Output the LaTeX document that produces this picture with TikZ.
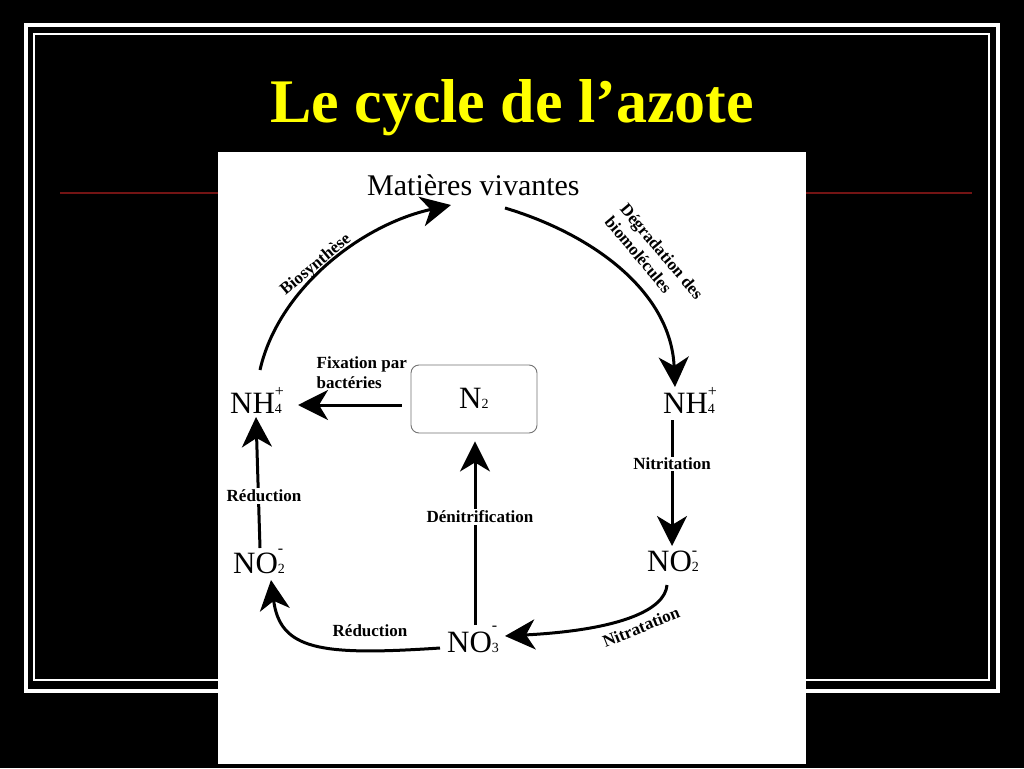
\documentclass[tikz,border=0pt]{standalone}
\usepackage{fontspec}
\setmainfont{Liberation Serif}
\usetikzlibrary{arrows.meta}
\newcommand{\ionic}[4]{#1\rlap{\fontsize{14}{14}\selectfont #2}\raisebox{#4}{\fontsize{16}{16}\selectfont #3}}
\definecolor{rule}{RGB}{115,20,20}
\definecolor{ttl}{RGB}{255,255,0}
\begin{document}
\begin{tikzpicture}[x=1pt,y=-1pt,
  lab/.style={font=\fontsize{17}{20}\selectfont\bfseries, inner sep=1.5pt},
  cut/.style={lab, fill=white},
  form/.style={font=\fontsize{31}{31}\selectfont, inner sep=0pt, anchor=base west},
  flow/.style={line width=3pt, -{Stealth[length=30pt,width=30pt,inset=9pt]}},
  titlestyle/.style={font=\fontsize{62}{62}\selectfont\bfseries, text=ttl, anchor=base, inner sep=0pt},
  gasbox/.style={draw=black!55, line width=0.9pt, rounded corners=8pt, minimum width=126pt, minimum height=68pt, inner sep=0pt}
]
\fill[black] (0,0) rectangle (1024,768);
\useasboundingbox (0,0) rectangle (1024,768);
\draw[white, line width=4.5pt] (26,25) rectangle (998,691);
\draw[white, line width=1.3pt] (34,34) rectangle (989,680);
\draw[rule, line width=1.6pt] (60,193) -- (972,193);
\fill[white] (218,152) rectangle (806,764);
\node[titlestyle] (title) at (512,122) {Le cycle de l’azote};

% species
\node[form, font=\fontsize{30}{30}\selectfont] (mat) at (367,195) {Matières vivantes};
\node[form] (nh4l) at (230,413) {\ionic{NH}{4}{+}{17pt}};
\node[form] (nh4r) at (663,413) {\ionic{NH}{4}{+}{17pt}};
\node[form] (no2r) at (647,571) {\ionic{NO}{2}{-}{16pt}};
\node[form] (no2l) at (233,573) {\ionic{NO}{2}{-}{20pt}};
\node[form] (no3) at (447,652) {\ionic{NO}{3}{-}{22pt}};
\node[gasbox] (n2box) at (474,399) {};
\node[form] (n2) at (459,408) {N\fontsize{14}{14}\selectfont 2};

% connectors
\draw[flow] ([shift={(30,-43)}]nh4l.base west) .. controls (278,290) and (360,225) .. ([shift={(84,10)}]mat.base west);
\draw[flow] ([shift={(138,13)}]mat.base west) .. controls (595,235) and (671,293) .. ([shift={(12,-26)}]nh4r.base west);
\draw[flow] ([shift={(9,7)}]nh4r.base west) -- ([shift={(25,-25)}]no2r.base west);
\draw[flow] ([shift={(20,14)}]no2r.base west) .. controls (665,610) and (620,630) .. ([shift={(58,-16)}]no3.base west);
\draw[flow] ([shift={(28,-27)}]no3.base west) -- ([shift={(1,8)}]n2box.south);
\draw[flow] ([shift={(-7,-4)}]no3.base west) .. controls (320,656) and (280,650) .. ([shift={(38,7)}]no2l.base west);
\draw[flow] ([shift={(27,-25)}]no2l.base west) -- ([shift={(26,4)}]nh4l.base west);
\draw[flow] ([shift={(-9,6)}]n2box.west) -- ([shift={(68,-8)}]nh4l.base west);

% labels
\node[lab, rotate=40] (lbio) at (316,265) {Biosynthèse};
\node[lab, rotate=-50, anchor=west, align=left] (ldeg) at (615,211) {Dégradation des\\biomolécules};
\node[cut] (lnitri) at (672,464) {Nitritation};
\node[lab, rotate=22] (lnitra) at (641,627) {Nitratation};
\node[cut] (lden) at (480,517) {Dénitrification};
\node[lab] (lred1) at (370,631) {Réduction};
\node[cut] (lred2) at (264,496) {Réduction};
\node[lab, anchor=north west, align=left] (lfix) at (315,355) {Fixation par\\bactéries};
\end{tikzpicture}
\end{document}
